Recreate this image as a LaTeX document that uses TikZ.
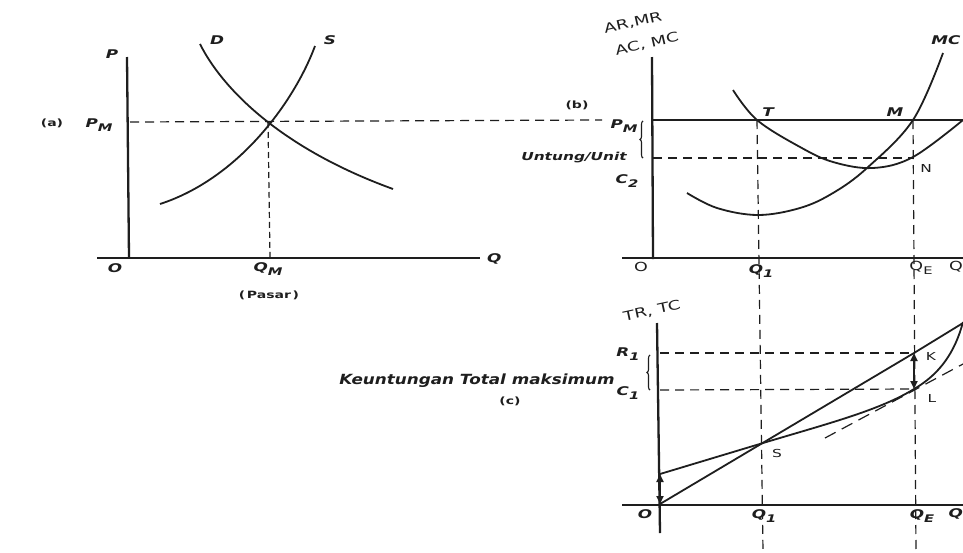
\documentclass[tikz,border=0pt]{standalone}
\usepackage{fontspec}
\setmainfont{DejaVu Sans}[FakeStretch=1.4,BoldFont={DejaVu Sans Bold},ItalicFont={DejaVu Sans Oblique},BoldItalicFont={DejaVu Sans Bold Oblique}]
\newfontfamily\kfont{DejaVu Sans}[FakeStretch=1.2,BoldFont={DejaVu Sans Bold},ItalicFont={DejaVu Sans Oblique},BoldItalicFont={DejaVu Sans Bold Oblique}]
\usetikzlibrary{decorations.pathreplacing,arrows.meta}
\definecolor{ink}{HTML}{1E1E1E}
\newcommand\sbs[2]{#1\raisebox{-0.32em}{\fontsize{10.5}{11}\selectfont #2}}
\tikzset{
  axisline/.style={line width=2.3pt,draw=ink},
  curveline/.style={line width=1.8pt,draw=ink},
  guide/.style={line width=1.2pt,draw=ink,dash pattern=on 9pt off 6pt},
  shortguide/.style={line width=1.2pt,draw=ink,dash pattern=on 6pt off 4pt},
  lab/.style={font=\fontsize{12}{13}\selectfont\bfseries\itshape,text=ink,inner sep=0pt},
  ulab/.style={font=\fontsize{12.5}{13}\selectfont,text=ink,inner sep=0pt},
  smalllab/.style={font=\fontsize{10}{11}\selectfont\bfseries,text=ink,inner sep=0pt},
  rotlab/.style={font=\fontsize{13}{13}\selectfont,text=ink,inner sep=0pt,rotate=13},
  bracemark/.style={draw=ink,line width=1.1pt,decorate,decoration={brace,amplitude=3pt}},
  dbl/.style={curveline,{Triangle[length=8pt,width=7pt]}-{Triangle[length=8pt,width=7pt]}}
}
\begin{document}
\begin{tikzpicture}[x=1pt,y=-1pt]
\useasboundingbox (0,0) rectangle (963,552);
\fill[white] (0,0) rectangle (963,552);

% ---------------- panel (a)
\coordinate (aTop) at (127,57);
\coordinate (aO) at (129,258);
\coordinate (aXL) at (97,258);
\coordinate (aXR) at (480,258);
\coordinate (aE) at (268,122);
\coordinate (aQM) at (270,258);
\coordinate (aPMs) at (130,122);
\coordinate (bPMe) at (602,120);
\draw[axisline] (aTop) -- (aO);
\draw[axisline] (aXL) -- (aXR);
\draw[guide] (aPMs) -- (bPMe);
\draw[shortguide] (aE) -- (aQM);
\draw[curveline] (200,44) .. controls (222,88) and (280,148) .. (393,189);
\draw[curveline] (160,204) .. controls (240,178) and (295,100) .. (315,46);
\node[lab] (aP) at (112,54) {P};
\node[lab] (aD) at (217,40) {D};
\node[lab] (aS) at (330,40) {S};
\node[smalllab] (aa) at (52,123) {(a)};
\node[lab] (aPMl) at (99,125) {\sbs{P}{M}};
\node[lab] (aOl) at (115,268) {O};
\node[lab] (aQMl) at (268,269) {\sbs{Q}{M}};
\node[smalllab] (pasar) at (269,295) {(\,Pasar\,)};
\node[lab,anchor=west] (aQ) at (487,259) {Q};

% ---------------- panel (b)
\coordinate (bTop) at (652,57);
\coordinate (bO) at (653,259);
\coordinate (bXL) at (622,258);
\coordinate (bXR) at (963,258);
\coordinate (bAR0) at (653,120);
\coordinate (bAR1) at (963,120);
\coordinate (bC20) at (653,158);
\coordinate (bN) at (913,158);
\coordinate (bT) at (757,120);
\coordinate (bM) at (913,120);
\coordinate (cQ1b) at (763,552);
\coordinate (cQEb) at (916,552);
\draw[axisline] (bTop) -- (bO);
\draw[axisline] (bXL) -- (bXR);
\draw[curveline] (bAR0) -- (bAR1);
\draw[guide] (bC20) -- (bN);
\draw[guide] (bT) -- (cQ1b);
\draw[guide] (bM) -- (cQEb);
\draw[curveline] plot[smooth,tension=0.6] coordinates {(733,90) (757,120) (800,147) (833,162) (873,168) (913,157) (963,120)};
\draw[curveline] plot[smooth,tension=0.6] coordinates {(687,193) (717,208) (758,215) (800,208) (833,193) (867,168) (913,120) (943,53)};
\draw[bracemark] (643,158) -- (643,121);
\node[rotlab] (bAR) at (633,23) {AR,MR};
\node[rotlab] (bAC) at (647,44) {AC, MC};
\node[smalllab] (bb) at (577,105) {(b)};
\node[lab] (bPMl) at (624,126) {\sbs{P}{M}};
\node[lab,font=\fontsize{11}{12}\selectfont\bfseries\itshape] (unt) at (574,158) {Untung/Unit};
\node[lab] (bC2) at (627,181) {\sbs{C}{2}};
\node[lab] (bTl) at (768,112) {T};
\node[lab] (bMl) at (895,112) {M};
\node[lab] (bMC) at (946,40) {MC};
\node[ulab,font=\fontsize{11}{12}\selectfont] (bNl) at (926,168) {N};
\node[ulab] (bOl) at (641,267) {O};
\node[lab] (bQ1) at (761,271) {\sbs{Q}{1}};
\node[ulab] (bQE) at (921,268) {\sbs{Q}{E}};
\node[ulab,anchor=east] (bQ) at (963,267) {Q};

% ---------------- panel (c)
\coordinate (cTop) at (657,323);
\coordinate (cBot) at (660,533);
\coordinate (cO) at (660,504);
\coordinate (cXL) at (622,505);
\coordinate (cXR) at (963,505);
\coordinate (cTC0) at (660,474);
\coordinate (cS) at (763,443);
\coordinate (cK) at (914,353);
\coordinate (cL) at (914,389);
\coordinate (cTRend) at (963,323);
\coordinate (cTCend) at (963,322);
\coordinate (cR10) at (660,353);
\coordinate (cC10) at (660,390);
\draw[axisline] (cTop) -- (cBot);
\draw[axisline] (cXL) -- (cXR);
\draw[guide] (cR10) -- (cK);
\draw[guide] (cC10) -- (cL);
\draw[curveline] (cO) -- (cK) -- (cTRend);
\draw[curveline] (cTC0) -- (cS) .. controls (830,423) and (880,410) .. (cL) .. controls (940,374) and (955,352) .. (cTCend);
\draw[guide,dash pattern=on 12pt off 7pt] (825,438) -- (963,364);
\draw[dbl] (cK) -- (cL);
\draw[dbl] (cTC0) -- (cO);
\draw[bracemark] (650,390) -- (650,355);
\node[rotlab,rotate=-1] (cTR) at (652,311) {TR, TC};
\node[lab] (cR1) at (628,354) {\sbs{R}{1}};
\node[lab] (cC1) at (628,393) {\sbs{C}{1}};
\node[lab,font=\kfont\fontsize{14}{15}\selectfont\bfseries\itshape] (keu) at (477,381) {Keuntungan Total maksimum};
\node[smalllab] (cc) at (510,401) {(c)};
\node[ulab,font=\fontsize{11}{12}\selectfont] (cKl) at (931,356) {K};
\node[ulab,font=\fontsize{11}{12}\selectfont] (cLl) at (932,398) {L};
\node[ulab,font=\fontsize{11}{12}\selectfont] (cSl) at (777,453) {S};
\node[lab] (cOl) at (645,514) {O};
\node[lab] (cQ1) at (764,516) {\sbs{Q}{1}};
\node[lab] (cQE) at (922,516) {\sbs{Q}{E}};
\node[lab,anchor=east] (cQ) at (963,514) {Q};
\end{tikzpicture}
\end{document}
